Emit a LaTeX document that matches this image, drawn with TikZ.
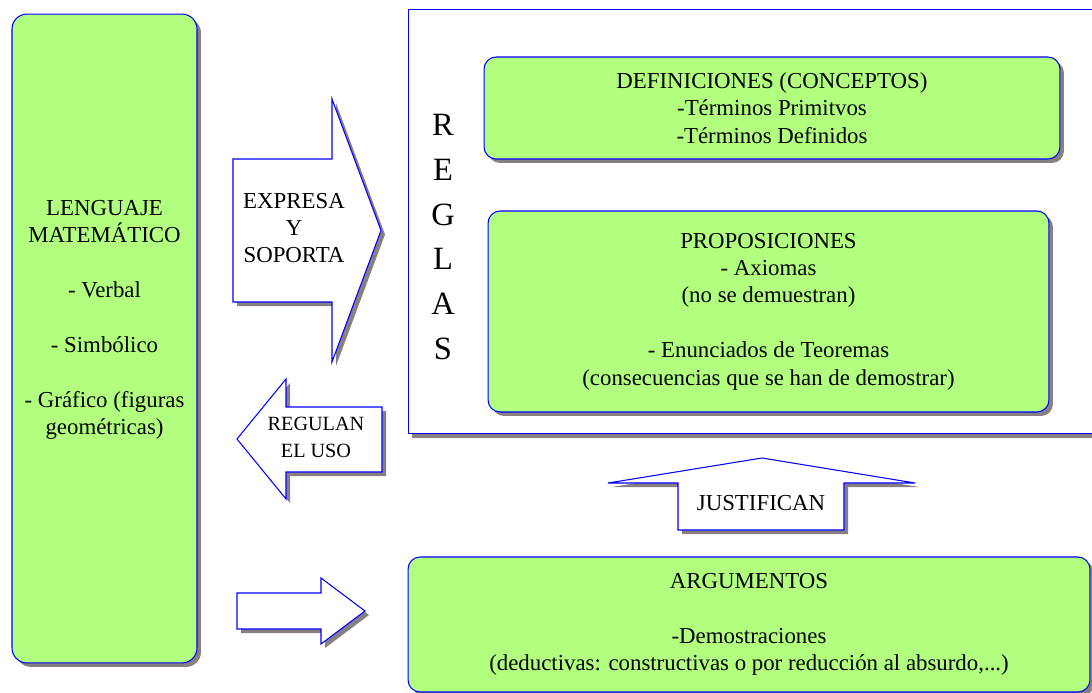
\documentclass[tikz,border=0pt]{standalone}
\usepackage{fontspec}
\setmainfont{Liberation Serif}
\usetikzlibrary{shadows}
\definecolor{verde}{RGB}{178,255,128}
\definecolor{sombra}{RGB}{136,128,128}

\begin{document}
\begin{tikzpicture}[x=0.02cm, y=-0.02cm,
      shadowed/.style={drop shadow={shadow xshift=0.08cm, shadow yshift=-0.08cm, fill=sombra, opacity=1}},
      caja/.style={rectangle, rounded corners=0.24cm, draw=blue, line width=0.6pt, fill=verde, align=center, font=\fontsize{13}{15.6}\selectfont, shadowed},
      flecha/.style={draw=blue, line width=0.6pt, fill=white, shadowed},
      rotulo/.style={align=center, font=\fontsize{13}{15.6}\selectfont}]

      \useasboundingbox (0,0) rectangle (1092,693);
      \clip (0,0) rectangle (1092,693);

      % Lenguaje matematico
      \node[caja, rounded corners=0.3cm, minimum width=3.7cm, minimum height=12.98cm] (lenguaje) at (104.5,338.5) {};
      \node[rotulo] (lenguajetxt) at (104.5,320) {LENGUAJE\\MATEMÁTICO\\[15.6pt]- Verbal\\[15.6pt]- Simbólico\\[15.6pt]- Gráfico (figuras\\geométricas)};

      % Reglas
      \node[draw=blue, line width=0.6pt, fill=white, shadowed, minimum width=13.84cm, minimum height=8.5cm] (reglas) at (754,221.5) {};
      \node[align=center, font=\fontsize{18.5}{25.5}\selectfont] (reglastxt) at (443,237) {R\\E\\G\\L\\A\\S};
      \node[caja, minimum width=11.52cm, minimum height=2.04cm] (definiciones) at (772,108) {DEFINICIONES (CONCEPTOS)\\-Términos Primitvos\\-Términos Definidos};
      \node[caja, minimum width=11.22cm, minimum height=4.02cm] (proposiciones) at (768.5,311.5) {PROPOSICIONES\\- Axiomas\\(no se demuestran)\\[15.6pt]- Enunciados de Teoremas\\(consecuencias que se han de demostrar)};

      % Argumentos
      \node[caja, minimum width=13.64cm, minimum height=2.7cm] (argumentos) at (749,624.5) {ARGUMENTOS\\[15.6pt]-Demostraciones\\(deductivas: constructivas o por reducción al absurdo,...)};

      % Block arrows
      \draw[flecha] (233,159) -- (332,159) -- (332,99) -- (381,230.5) -- (332,362) -- (332,302) -- (233,302) -- cycle;
      \node[rotulo] (expresa) at (294,228) {EXPRESA\\Y\\SOPORTA};

      \draw[flecha] (382,407) -- (286,407) -- (286,379) -- (237,439) -- (286,499) -- (286,472) -- (382,472) -- cycle;
      \node[rotulo, font=\fontsize{11.5}{15}\selectfont] (regulan) at (316,437.5) {REGULAN\\EL USO};

      \draw[flecha] (678,530) -- (678,483) -- (608,483) -- (762,458) -- (915,483) -- (844,483) -- (844,530) -- cycle;
      \node[rotulo] (justifican) at (761,503) {JUSTIFICAN};

      \draw[flecha] (237,593) -- (321,593) -- (321,578) -- (365,611) -- (321,644) -- (321,629) -- (237,629) -- cycle;
    \end{tikzpicture}
\end{document}
